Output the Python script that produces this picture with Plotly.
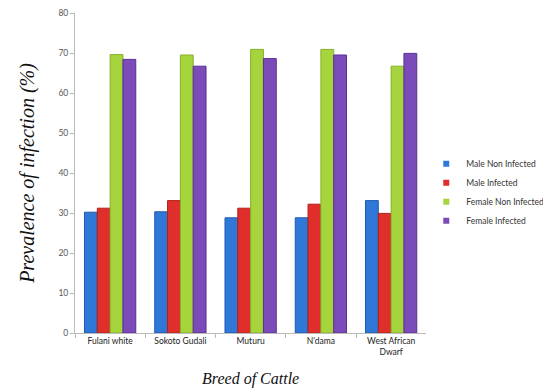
import plotly.graph_objects as go

breeds = ["Fulani white", "Sokoto Gudali", "Muturu", "N'dama", "West African<br>Dwarf"]
male_non_infected = [30.2, 30.3, 28.8, 28.8, 33.1]
male_infected = [31.2, 33.1, 31.2, 32.2, 29.9]
female_non_infected = [69.6, 69.5, 70.9, 70.9, 66.7]
female_infected = [68.4, 66.7, 68.6, 69.5, 69.9]

series = [
    ("Male Non Infected", male_non_infected, "#2F78D8", "#1F5BB0"),
    ("Male Infected", male_infected, "#E02E2A", "#B0201C"),
    ("Female Non Infected", female_non_infected, "#A6D43C", "#86B02A"),
    ("Female Infected", female_infected, "#7C4BBA", "#5A2F94"),
]

fig = go.Figure()
for name, vals, col, lc in series:
    fig.add_trace(go.Bar(x=breeds, y=vals, name=name, showlegend=False,
                         marker=dict(color=col, line=dict(color=lc, width=1))))
# legend entries with small square keys
for name, vals, col, lc in series:
    fig.add_trace(go.Scatter(x=[None], y=[None], mode="markers", name=name,
                             marker=dict(symbol="square", size=6, color=col)))

fig.update_layout(
    width=543, height=391,
    paper_bgcolor="white", plot_bgcolor="white",
    margin=dict(l=75, r=116, t=13, b=58),
    barmode="group", bargap=0.27, bargroupgap=0,
    font=dict(family="Lato, sans-serif", size=8, color="#333"),
    legend=dict(xref="container", yref="container", x=0.785, y=0.508,
                xanchor="left", yanchor="middle",
                font=dict(family="Lato, sans-serif", size=8.5, color="#333"),
                tracegroupgap=0, itemwidth=30),
    showlegend=True,
)
fig.update_yaxes(range=[0, 80], dtick=10, showgrid=False, zeroline=False,
                 showline=True, linecolor="#BBBBBB", linewidth=1,
                 ticks="outside", ticklen=4, tickcolor="#BBBBBB",
                 tickfont=dict(size=8.5, color="#555"), automargin=False,
                 title=dict(text="<i>Prevalence of infection (%)</i>",
                            font=dict(family="Liberation Serif, serif", size=20, color="#111"),
                            standoff=18))
fig.update_xaxes(showgrid=False, showline=True, linecolor="#BBBBBB", linewidth=1,
                 ticks="outside", ticklen=4, tickcolor="#BBBBBB", tickson="boundaries",
                 tickfont=dict(size=8.5, color="#222"), automargin=False,
                 title=dict(text="<i>Breed of Cattle</i>",
                            font=dict(family="Liberation Serif, serif", size=16, color="#111"),
                            standoff=16))

fig.write_html("out.html")
